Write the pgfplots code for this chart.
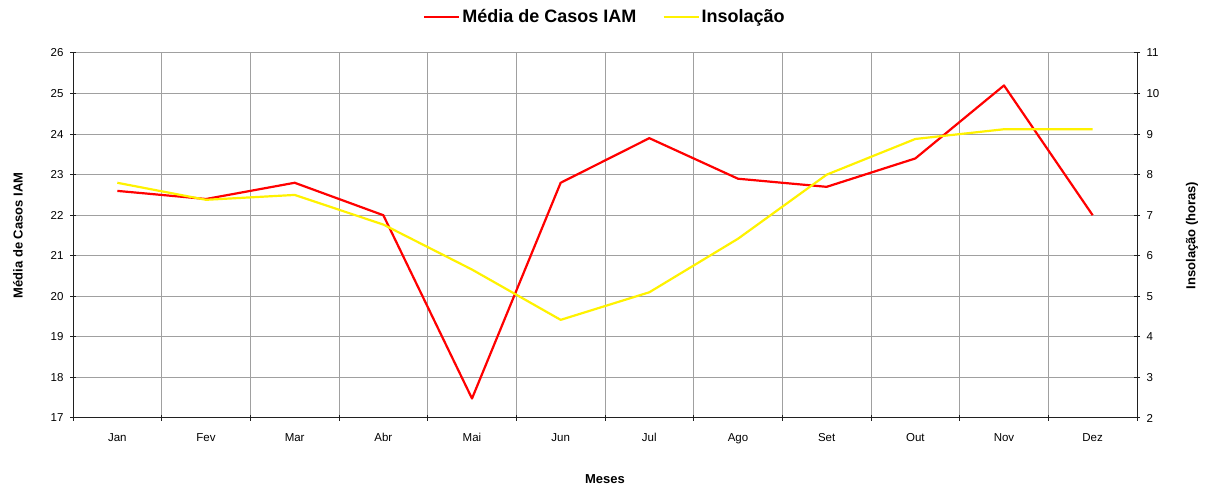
\documentclass[border=0pt]{standalone}
\usepackage{pgfplots}
\pgfplotsset{compat=1.18}
\usepackage{fontspec}
\setmainfont{Liberation Sans}
\definecolor{gridgray}{HTML}{A0A0A0}
\definecolor{axisgray}{HTML}{202020}
\pgfplotstableread{
x iam ins
0 22.6 7.8
1 22.4 7.38
2 22.8 7.5
3 22.0 6.77
4 17.48 5.66
5 22.8 4.42
6 23.9 5.1
7 22.9 6.42
8 22.7 8.0
9 23.4 8.88
10 25.2 9.12
11 22.0 9.12
}\data
\begin{document}
\begin{tikzpicture}
\useasboundingbox (0,0) rectangle (1205pt,486pt);
\pgfplotsset{
  base/.style={
    scale only axis, width=1064pt, height=365pt,
    at={(73pt,68pt)}, anchor=south west,
    xmin=-0.5, xmax=11.5,
    /pgf/number format/assume math mode=true,
    tick label style={font=\fontsize{11.5}{13}\selectfont, text=black},
    label style={font=\bfseries\fontsize{13}{15}\selectfont},
    axis line style={axisgray, line width=1pt},
    tick style={axisgray, line width=1pt},
    tick align=center, major tick length=6pt, minor tick length=6pt,
  }
}
\begin{axis}[base,
  axis x line*=bottom, axis y line*=left,
  ymin=17, ymax=26, ytick={17,...,26},
  xtick={0,...,11}, major x tick style={draw=none},
  xticklabels={Jan,Fev,Mar,Abr,Mai,Jun,Jul,Ago,Set,Out,Nov,Dez},
  minor xtick={-0.5,0.5,...,11.5},
  xminorgrids, ymajorgrids,
  minor x grid style={gridgray, line width=1pt},
  major y grid style={gridgray, line width=1pt},
  xticklabel shift=9pt, yticklabel shift=3pt,
  ylabel={Média de Casos IAM},
  ylabel style={at={(axis description cs:0,0.5)}, anchor=center, yshift=55pt},
  xlabel={Meses},
  xlabel style={at={(axis description cs:0.5,0)}, anchor=center, yshift=-61pt},
]
\addplot[red, line width=2.2pt, line join=round] table[x=x, y=iam] {\data};
\end{axis}
\begin{axis}[base,
  axis x line=none, axis y line*=right,
  ymin=2, ymax=11, ytick={2,...,11},
  yticklabel shift=3pt,
  ylabel={Insolação (horas)},
  ylabel style={at={(axis description cs:1,0.5)}, anchor=center, yshift=-55pt},
  legend columns=2,
  legend style={draw=none, fill=none, at={(axis description cs:0.5,1)}, anchor=center, yshift=36pt,
    font=\bfseries\fontsize{18}{20}\selectfont,
    /tikz/every even column/.append style={column sep=24pt}},
  legend image code/.code={\draw[#1, line width=2.2pt] (0pt,0pt) -- (35pt,0pt);},
]
\addlegendimage{red}
\addlegendentry{Média de Casos IAM}
\addplot[yellow, line width=2.2pt, line join=round] table[x=x, y=ins] {\data};
\addlegendentry{Insolação}
\end{axis}
\end{tikzpicture}
\end{document}
